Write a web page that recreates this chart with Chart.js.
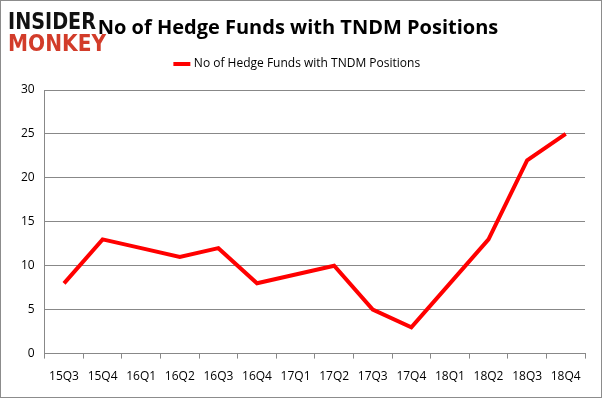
<!DOCTYPE html>
<html>
<head>
<meta charset="utf-8">
<script src="https://cdn.jsdelivr.net/npm/chart.js@4"></script>
<style>
  body { margin: 0; background: #fff; }
  #wrap { width: 600px; height: 396px; border: 1px solid #8c8c8c; position: relative; }
</style>
</head>
<body>
<div id="wrap"><canvas id="chart" width="600" height="396"></canvas></div>
<script>
const quarters = ["15Q3", "15Q4", "16Q1", "16Q2", "16Q3", "16Q4", "17Q1", "17Q2", "17Q3", "17Q4", "18Q1", "18Q2", "18Q3", "18Q4"];
const fundCounts = [8, 13, 12, 11, 12, 8, 9, 10, 5, 3, 8, 13, 22, 25];
const yTicks = [0, 5, 10, 15, 20, 25, 30];
const seriesName = "No of Hedge Funds with TNDM Positions";
const chartTitle = "No of Hedge Funds with TNDM Positions";
Chart.defaults.font.family = '"Open Sans", "Liberation Sans", sans-serif';
Chart.defaults.color = '#000';

// draws the Insider Monkey logo over the top left corner
const logoPlugin = {
  id: 'logo',
  afterDraw (chart) {
    const ctx = chart.ctx;
    ctx.save();
    ctx.textBaseline = 'alphabetic';
    ctx.font = 'bold 23px "DejaVu Sans"';
    ctx.fillStyle = '#111';
    ctx.fillText("INSIDER", 7, 28, 88);
    ctx.fillStyle = '#d23c2a';
    ctx.fillText("MONKEY", 7, 50, 98);
    ctx.restore();
  }
};

const ctx = document.getElementById("chart").getContext("2d");
new Chart(ctx, {
  type: "line",
  data: {
    labels: quarters,
    datasets: [
      {
        label: seriesName,
        data: fundCounts,
        borderColor: "#ff0000",
        backgroundColor: "#ff0000",
        borderWidth: 4,
        pointRadius: 0,
        tension: 0,
      },
    ],
  },
  options: {
    responsive: false,
    animation: false,
    layout: { padding: { left: 10, right: 16, top: 8, bottom: 2 } },
    plugins: {
      title: {
        display: true,
        text: chartTitle,
        font: { size: 20, weight: 'bold' },
        color: '#000',
        padding: { top: 7, bottom: 8 }
      },
      legend: {
        labels: {
          usePointStyle: true,
          pointStyle: 'line',
          boxWidth: 26,
          font: { size: 12 },
          padding: 10
        }
      },
      tooltip: { enabled: false }
    },
    scales: {
      x: {
        offset: true,
        grid: { offset: true, drawOnChartArea: false, drawTicks: true, tickLength: 5, color: '#888' },
        border: { color: '#888' },
        ticks: { font: { size: 12 }, maxRotation: 0, padding: 11 }
      },
      y: {
        min: 0,
        max: 30,
        afterBuildTicks: (axis) => { axis.ticks = yTicks.map((v) => ({ value: v })); },
        grid: { color: '#888', drawTicks: false },
        border: { color: '#888' },
        ticks: { font: { size: 12 }, padding: 10 }
      }
    }
  },
  plugins: [logoPlugin, {
    id: 'legendGap',
    beforeInit (chart) {
      const origFit = chart.legend.fit;
      chart.legend.fit = function () {
        origFit.bind(chart.legend)();
        this.height += 10;
      };
    }
  }]
});
</script>
</body>
</html>
